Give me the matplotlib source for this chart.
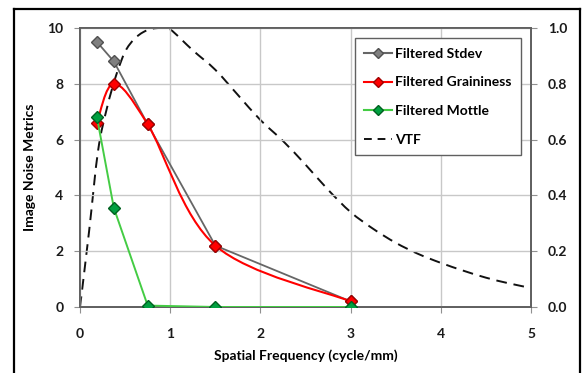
import matplotlib.pyplot as plt
from matplotlib.path import Path
from matplotlib.patches import PathPatch
from matplotlib.lines import Line2D

plt.rcParams['font.family'] = ['Lato', 'DejaVu Sans']
plt.rcParams['font.weight'] = 'bold'

freq = [0.1875, 0.375, 0.75, 1.5, 3.0]
stdev = [9.5, 8.8, 6.55, 2.2, 0.2]
graininess = [6.6, 8.0, 6.55, 2.2, 0.2]
mottle = [6.8, 3.55, 0.05, 0.0, 0.0]

vtf_x = [0, 0.1, 0.2, 0.3, 0.4, 0.5, 0.6, 0.7, 0.8, 0.9, 1.0, 1.25, 1.5, 1.75,
         2.0, 2.25, 2.5, 2.75, 3.0, 3.25, 3.5, 3.75, 4.0, 4.25, 4.5, 4.75, 5.0]
vtf = [0, 0.27, 0.56, 0.715, 0.83, 0.915, 0.96, 0.985, 0.997, 1.0, 0.995, 0.92,
       0.85, 0.76, 0.67, 0.595, 0.51, 0.42, 0.34, 0.28, 0.23, 0.19, 0.158,
       0.13, 0.105, 0.085, 0.068]


def smooth_path(x, y):
    # excel-style smoothed line: cubic bezier through the points
    verts = [(x[0], y[0])]
    codes = [Path.MOVETO]
    n = len(x)
    for i in range(n - 1):
        x0, y0 = (x[i - 1], y[i - 1]) if i > 0 else (x[i], y[i])
        x3, y3 = (x[i + 2], y[i + 2]) if i + 2 < n else (x[i + 1], y[i + 1])
        c1 = (x[i] + (x[i + 1] - x0) / 6, y[i] + (y[i + 1] - y0) / 6)
        c2 = (x[i + 1] - (x3 - x[i]) / 6, y[i + 1] - (y3 - y[i]) / 6)
        verts += [c1, c2, (x[i + 1], y[i + 1])]
        codes += [Path.CURVE4] * 3
    return Path(verts, codes)


fig = plt.figure(figsize=(5.82, 3.73), dpi=100)
ax = fig.add_axes([0.1375, 0.177, 0.775, 0.748])
ax2 = ax.twinx()

ax.set_zorder(2)
ax.patch.set_visible(False)

ax.set_xlim(0, 5)
ax.set_ylim(0, 10)
ax2.set_ylim(0, 1.0)
ax.set_xticks([0, 1, 2, 3, 4, 5])
ax.set_yticks([0, 2, 4, 6, 8, 10])
ax2.set_yticks([0, 0.2, 0.4, 0.6, 0.8, 1.0])
ax2.set_yticklabels(['%.1f' % v for v in [0, 0.2, 0.4, 0.6, 0.8, 1.0]])
ax.grid(True, color='#c8c8c8', linewidth=1.0)
ax.set_axisbelow(True)

for a in (ax, ax2):
    for s in a.spines.values():
        s.set_color('#606060')
        s.set_linewidth(1.3)
    a.tick_params(colors='#909090', length=4, width=0.8, labelsize=10,
                  labelcolor='#1a1a1a', pad=8)
ax.tick_params(axis='x', pad=11)

# VTF on secondary axis
ax2.add_patch(PathPatch(smooth_path(vtf_x, vtf), fill=False, edgecolor='#111111',
                        linewidth=1.4, linestyle=(0, (5.5, 3.5))))

# noise metrics
ax.plot(freq, stdev, color='#666666', linewidth=1.3, marker='D', markersize=6.5,
        markerfacecolor='#808080', markeredgecolor='#505050', zorder=3)
ax.add_patch(PathPatch(smooth_path(freq, graininess), fill=False, edgecolor='#ff0000',
                       linewidth=1.5, zorder=4))
ax.plot(freq, graininess, linestyle='none', marker='D', markersize=6.5,
        markerfacecolor='#ff0000', markeredgecolor='#a00000', zorder=5)
ax.plot(freq, mottle, color='#44cc44', linewidth=1.4, marker='D', markersize=6.5,
        markerfacecolor='#00a040', markeredgecolor='#006020', zorder=6)

handles = [
    Line2D([], [], color='#666666', marker='D', markersize=5,
           markerfacecolor='#808080', markeredgecolor='#505050'),
    Line2D([], [], color='#ff0000', marker='D', markersize=5,
           markerfacecolor='#ff0000', markeredgecolor='#a00000'),
    Line2D([], [], color='#44cc44', marker='D', markersize=5,
           markerfacecolor='#00a040', markeredgecolor='#006020'),
    Line2D([], [], color='#111111', linestyle=(0, (4, 3)), linewidth=1.4),
]
leg = ax.legend(handles, ['Filtered Stdev', 'Filtered Graininess', 'Filtered Mottle', 'VTF'],
                loc='upper right', bbox_to_anchor=(0.978, 0.964), fontsize=10,
                handlelength=2.0, handletextpad=0.2, labelspacing=1.2,
                fancybox=False, framealpha=1, borderpad=0.7, borderaxespad=0)
leg.get_frame().set_edgecolor('#606060')
leg.get_frame().set_linewidth(1.0)

ax.set_xlabel('Spatial Frequency (cycle/mm)', fontsize=10, fontweight='bold', labelpad=7)
ax.set_ylabel('Image Noise Metrics', fontsize=10, fontweight='bold', labelpad=8)

# border around the chart
fig.add_artist(Line2D([0.024, 0.024], [0, 0.976], color='black', linewidth=1.6))
fig.add_artist(Line2D([0.024, 0.9966], [0.976, 0.976], color='black', linewidth=1.6))
fig.add_artist(Line2D([0.9966, 0.9966], [0, 0.976], color='black', linewidth=1.6))

fig.savefig('out.png', dpi=100)
